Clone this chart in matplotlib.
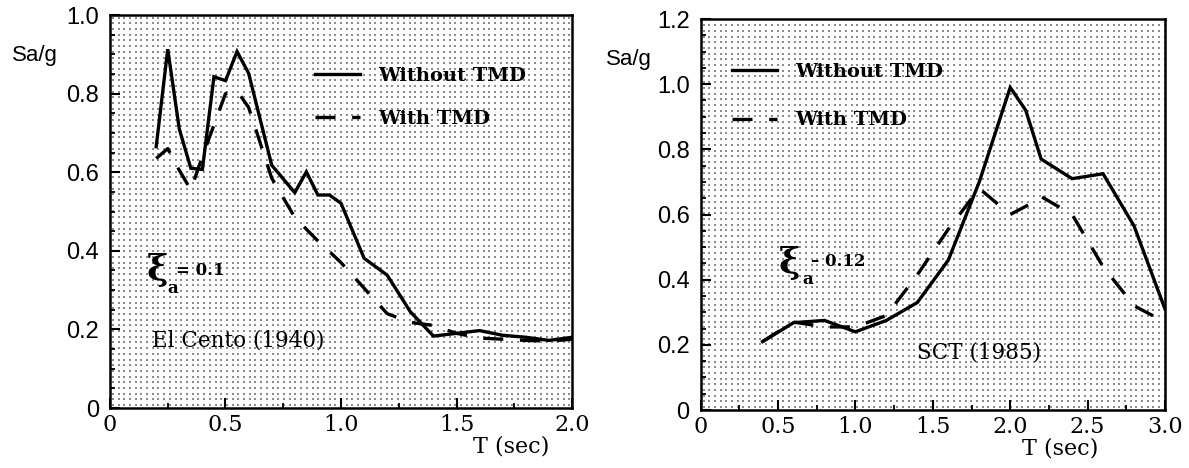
import numpy as np
import matplotlib
matplotlib.use('Agg')
import matplotlib.pyplot as plt

# El Centro (1940) record
t_el = [0.2, 0.25, 0.3, 0.35, 0.4, 0.45, 0.5, 0.55, 0.6, 0.7, 0.8, 0.85, 0.9, 0.95,
        1.0, 1.1, 1.2, 1.3, 1.4, 1.5, 1.6, 1.7, 1.8, 1.9, 2.0]
sa_el_without = [0.665, 0.913, 0.71, 0.61, 0.607, 0.843, 0.833, 0.907, 0.852, 0.618, 0.548, 0.601, 0.542, 0.542,
                 0.521, 0.381, 0.338, 0.245, 0.183, 0.19, 0.197, 0.185, 0.18, 0.172, 0.18]
sa_el_with = [0.635, 0.66, 0.605, 0.555, 0.64, 0.72, 0.80, 0.807, 0.765, 0.585, 0.485, 0.455, 0.425, 0.398,
              0.37, 0.305, 0.24, 0.218, 0.21, 0.19, 0.178, 0.175, 0.172, 0.17, 0.175]

# SCT (1985) record
t_sct = [0.4, 0.6, 0.8, 1.0, 1.2, 1.4, 1.6, 1.8, 2.0, 2.1, 2.2, 2.4, 2.6, 2.8, 3.0]
sa_sct_without = [0.21, 0.268, 0.275, 0.24, 0.275, 0.33, 0.46, 0.70, 0.99, 0.92, 0.77, 0.71, 0.725, 0.565, 0.31]
sa_sct_with = [0.21, 0.27, 0.255, 0.255, 0.29, 0.415, 0.555, 0.68, 0.60, 0.625, 0.655, 0.60, 0.44, 0.32, 0.27]

xticks_el = [0, 0.5, 1.0, 1.5, 2.0]
xlabels_el = ['0', '0.5', '1.0', '1.5', '2.0']
yticks_el = [0, 0.2, 0.4, 0.6, 0.8, 1.0]
ylabels_el = ['0', '0.2', '0.4', '0.6', '0.8', '1.0']
xticks_sct = [0, 0.5, 1.0, 1.5, 2.0, 2.5, 3.0]
xlabels_sct = ['0', '0.5', '1.0', '1.5', '2.0', '2.5', '3.0']
yticks_sct = [0, 0.2, 0.4, 0.6, 0.8, 1.0, 1.2]
ylabels_sct = ['0', '0.2', '0.4', '0.6', '0.8', '1.0', '1.2']

serif = 'DejaVu Serif'
sans = 'Liberation Sans'

fig = plt.figure(figsize=(11.89, 4.68), dpi=100)
ax1 = fig.add_axes([0.0925, 0.1282, 0.3886, 0.8397])
ax2 = fig.add_axes([0.5893, 0.1239, 0.3905, 0.8355])


def dotted_bg(ax, xmax, ymax, dx, dy):
    # halftone-like dotted background
    gx, gy = np.meshgrid(np.arange(dx / 2, xmax, dx), np.arange(dy / 2, ymax, dy))
    ax.scatter(gx.ravel(), gy.ravel(), s=0.55, marker='s', color='0.55',
               linewidths=0, zorder=0)


def style_axes(ax, xmax, ymax, xt, xl, yt, yl):
    ax.set_xlim(0, xmax)
    ax.set_ylim(0, ymax)
    ax.set_xticks(xt)
    ax.set_xticklabels(xl, family=serif, fontsize=16)
    ax.set_yticks(yt)
    ax.set_yticklabels(yl, family=sans, fontsize=17)
    ax.set_xticks(np.arange(0, xmax + 0.001, 0.25), minor=True)
    ax.set_yticks(np.arange(0, ymax + 0.001, 0.05), minor=True)
    ax.tick_params(which='major', direction='in', length=7, width=1.5, pad=8,
                   top=False, right=False)
    ax.tick_params(axis='x', which='major', pad=4)
    ax.tick_params(which='minor', direction='in', length=3.5, width=1.3,
                   top=False, right=False)
    for s in ax.spines.values():
        s.set_linewidth(1.8)


for ax, t, a, b, xmax, ymax, xt, xl, yt, yl, dx, dy in [
        (ax1, t_el, sa_el_without, sa_el_with, 2.0, 1.0,
         xticks_el, xlabels_el, yticks_el, ylabels_el, 0.0247, 0.0145),
        (ax2, t_sct, sa_sct_without, sa_sct_with, 3.0, 1.2,
         xticks_sct, xlabels_sct, yticks_sct, ylabels_sct, 0.0368, 0.0175)]:
    dotted_bg(ax, xmax, ymax, dx, dy)
    ax.plot(t, a, color='black', lw=2.4, solid_joinstyle='miter', label='Without TMD', zorder=3)
    ax.plot(t, b, color='black', lw=2.4, linestyle=(0, (6, 5)), label='With TMD', zorder=3)
    style_axes(ax, xmax, ymax, xt, xl, yt, yl)

leg_font = {'family': serif, 'weight': 'bold', 'size': 14}
ax1.legend(loc='upper left', bbox_to_anchor=(0.444, 0.868), frameon=False,
           prop=leg_font, handlelength=2.3, handletextpad=0.95, labelspacing=1.3,
           borderpad=0, borderaxespad=0)
ax2.legend(loc='upper left', bbox_to_anchor=(0.067, 0.887), frameon=False,
           prop=leg_font, handlelength=2.3, handletextpad=0.95, labelspacing=1.55,
           borderpad=0, borderaxespad=0)

# damping annotations
ax1.text(0.16, 0.35, 'ξ', family=serif, weight='bold', fontsize=26, va='center')
ax1.text(0.25, 0.305, 'a', family=serif, weight='bold', fontsize=12, va='center')
ax1.text(0.285, 0.35, '= 0.1', family=serif, weight='bold', fontsize=12, va='center')
ax1.text(0.18, 0.173, 'El Cento (1940)', family=serif, fontsize=15.5, va='center')

ax2.text(0.505, 0.45, 'ξ', family=serif, weight='bold', fontsize=26, va='center')
ax2.text(0.655, 0.40, 'a', family=serif, weight='bold', fontsize=12, va='center')
ax2.text(0.71, 0.455, '– 0.12', family=serif, weight='bold', fontsize=12, va='center')
ax2.text(1.40, 0.178, 'SCT (1985)', family=serif, fontsize=15.5, va='center')

fig.text(35 / 1189, 1 - 55 / 468, 'Sa/g', family=sans, fontsize=16, ha='center', va='center')
fig.text(629 / 1189, 1 - 60 / 468, 'Sa/g', family=sans, fontsize=16, ha='center', va='center')
fig.text(511 / 1189, 1 - 446 / 468, 'T (sec)', family=serif, fontsize=16, ha='center', va='center')
fig.text(1060 / 1189, 1 - 448 / 468, 'T (sec)', family=serif, fontsize=16, ha='center', va='center')

fig.savefig('out.png', dpi=100)
